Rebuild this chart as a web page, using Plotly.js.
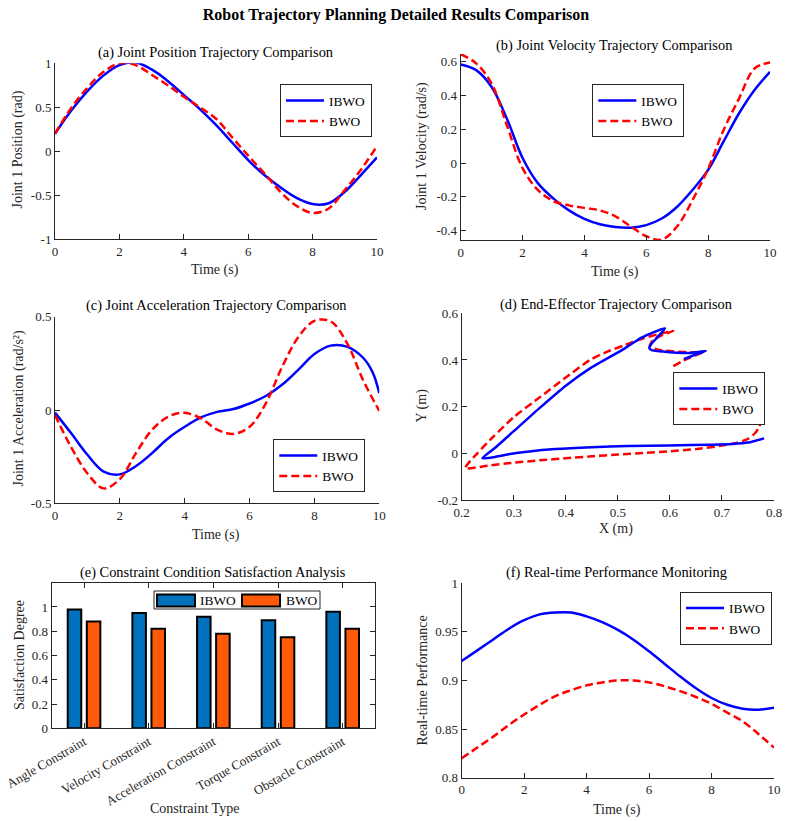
<!DOCTYPE html>
<html>
<head>
<meta charset="utf-8">
<script src="https://cdn.plot.ly/plotly-3.0.1.min.js"></script>
<style>
  html, body { margin: 0; padding: 0; background: #ffffff; }
  #chart { width: 788px; height: 821px; }
</style>
</head>
<body>
<div id="chart"></div>
<script>
// ---------- data ----------
const seriesNames = ['IBWO', 'BWO'];

// (a) joint 1 position (rad)
const tPos = [0, 0.5, 1, 1.5, 2, 2.5, 3, 3.5, 4, 4.5, 5, 5.5, 6, 6.5, 7, 7.5, 8, 8.5, 9, 9.5, 10];
const posIBWO = [0.20, 0.46, 0.68, 0.86, 0.98, 1.01, 0.93, 0.80, 0.64, 0.48, 0.30, 0.10, -0.10, -0.27, -0.41, -0.53, -0.60, -0.59, -0.46, -0.27, -0.07];
const posBWO  = [0.20, 0.49, 0.72, 0.90, 1.00, 0.98, 0.87, 0.75, 0.62, 0.50, 0.37, 0.16, -0.05, -0.25, -0.46, -0.62, -0.70, -0.65, -0.44, -0.21, 0.06];

// (b) joint 1 velocity (rad/s)
const tVel = [0, 0.5, 1, 1.5, 2, 2.5, 3, 3.5, 4, 4.5, 5, 5.5, 6, 6.5, 7, 7.5, 8, 8.5, 9, 9.5, 10];
const velIBWO = [0.584, 0.55, 0.45, 0.26, 0.03, -0.12, -0.21, -0.28, -0.33, -0.362, -0.378, -0.382, -0.367, -0.328, -0.258, -0.158, -0.04, 0.128, 0.295, 0.433, 0.54];
const velBWO  = [0.645, 0.59, 0.47, 0.22, -0.03, -0.16, -0.225, -0.25, -0.265, -0.28, -0.315, -0.375, -0.433, -0.453, -0.374, -0.217, -0.033, 0.196, 0.383, 0.56, 0.595];

// (c) joint 1 acceleration (rad/s^2)
const tAccIBWO = [0, 0.5, 1, 1.5, 2, 2.5, 3, 3.5, 4, 4.5, 5, 5.5, 6, 6.5, 7, 7.5, 8, 8.5, 9, 9.5, 9.8, 10];
const accIBWO  = [-0.014, -0.125, -0.24, -0.33, -0.345, -0.30, -0.23, -0.15, -0.09, -0.04, -0.01, 0.005, 0.035, 0.075, 0.135, 0.215, 0.30, 0.345, 0.34, 0.28, 0.20, 0.09];
const tAccBWO  = [0, 0.5, 1, 1.5, 2, 2.5, 3, 3.5, 4, 4.5, 5, 5.5, 6, 6.5, 7, 7.5, 8, 8.5, 9, 9.5, 10];
const accBWO   = [-0.027, -0.20, -0.34, -0.42, -0.37, -0.23, -0.105, -0.035, -0.015, -0.045, -0.105, -0.128, -0.09, 0.035, 0.23, 0.39, 0.478, 0.475, 0.36, 0.16, -0.005];

// (d) end-effector path in the X-Y plane (m)
const eeXIBWO = [0.627, 0.648, 0.669, 0.655, 0.639, 0.615, 0.5873, 0.572, 0.5635, 0.5604, 0.5649, 0.577, 0.5905,
                 0.5455, 0.5135, 0.4465, 0.40, 0.35, 0.30, 0.265, 0.2397,
                 0.26, 0.29, 0.33, 0.38, 0.45, 0.52, 0.60, 0.68, 0.72, 0.75, 0.781];
const eeYIBWO = [0.404, 0.422, 0.439, 0.434, 0.430, 0.431, 0.436, 0.439, 0.444, 0.452, 0.471, 0.500, 0.536,
                 0.496, 0.450, 0.364, 0.290, 0.195, 0.095, 0.025, -0.021,
                 -0.017, -0.004, 0.008, 0.018, 0.026, 0.031, 0.034, 0.037, 0.040, 0.046, 0.064];
const eeXBWO = [0.6065, 0.625, 0.645, 0.662, 0.64, 0.61, 0.585, 0.572, 0.5625, 0.5617, 0.568, 0.585, 0.6065,
                0.577, 0.545, 0.5135, 0.48, 0.4465, 0.40, 0.35, 0.30, 0.26, 0.23, 0.2064,
                0.25, 0.30, 0.35, 0.40, 0.45, 0.50, 0.55, 0.60, 0.65, 0.70, 0.73, 0.75, 0.763, 0.771, 0.776];
const eeYBWO = [0.374, 0.396, 0.417, 0.432, 0.433, 0.436, 0.441, 0.447, 0.455, 0.465, 0.486, 0.507, 0.524,
                0.510, 0.490, 0.464, 0.436, 0.400, 0.325, 0.240, 0.155, 0.070, 0.000, -0.064,
                -0.053, -0.040, -0.030, -0.021, -0.013, -0.005, 0.002, 0.009, 0.018, 0.033, 0.046, 0.062, 0.085, 0.110, 0.140];

// (e) constraint satisfaction degree
const constraintTypes = ['Angle Constraint', 'Velocity Constraint', 'Acceleration Constraint', 'Torque Constraint', 'Obstacle Constraint'];
const satIBWO = [0.98, 0.95, 0.92, 0.89, 0.96];
const satBWO  = [0.88, 0.82, 0.78, 0.75, 0.82];

// (f) real-time performance
const tPerf = [0, 0.5, 1, 1.5, 2, 2.5, 3, 3.5, 4, 4.5, 5, 5.5, 6, 6.5, 7, 7.5, 8, 8.5, 9, 9.5, 10];
const perfIBWO = [0.920, 0.931, 0.942, 0.953, 0.962, 0.968, 0.970, 0.970, 0.966, 0.960, 0.952, 0.942, 0.930, 0.917, 0.904, 0.892, 0.882, 0.875, 0.871, 0.870, 0.872];
const perfBWO  = [0.820, 0.831, 0.842, 0.854, 0.865, 0.875, 0.884, 0.890, 0.895, 0.898, 0.900, 0.900, 0.898, 0.894, 0.889, 0.883, 0.876, 0.867, 0.858, 0.845, 0.831];

// tick labels (plain hyphen minus signs)
const ticksPosVals = [-1, -0.5, 0, 0.5, 1];
const ticksPosText = ['-1', '-0.5', '0', '0.5', '1'];
const ticksVelVals = [-0.4, -0.2, 0, 0.2, 0.4, 0.6];
const ticksVelText = ['-0.4', '-0.2', '0', '0.2', '0.4', '0.6'];
const ticksAccVals = [-0.5, 0, 0.5];
const ticksAccText = ['-0.5', '0', '0.5'];
const ticksEEYVals = [-0.2, 0, 0.2, 0.4, 0.6];
const ticksEEYText = ['-0.2', '0', '0.2', '0.4', '0.6'];
const ticksSatVals = [0, 0.2, 0.4, 0.6, 0.8, 1];
const ticksSatText = ['0', '0.2', '0.4', '0.6', '0.8', '1'];

// ---------- layout helpers ----------
const W = 788, H = 821;
const FONT = '"Liberation Serif", "Times New Roman", Times, serif';
const INK = '#262626';
const BLUE = '#0000FF', RED = '#FF0000';
const BAR_BLUE = '#0072BD', BAR_ORANGE = '#FF5A0A';

const px = v => v / W;           // horizontal pixel -> paper
const py = v => 1 - v / H;       // vertical pixel -> paper

function axis(x0, x1, extra) {
  return Object.assign({
    domain: [x0, x1],
    showline: true, linecolor: INK, linewidth: 1,
    ticks: 'inside', ticklen: 5, tickwidth: 1, tickcolor: INK,
    showgrid: false, zeroline: false, mirror: false,
    tickfont: { family: FONT, size: 13, color: INK },
    fixedrange: true
  }, extra);
}
function xax(l, r, extra) { return axis(px(l), px(r), extra); }
function yax(t, b, extra) { return axis(py(b), py(t), extra); }

function legendAt(left, top, extra) {
  return Object.assign({
    x: px(left), y: py(top), xanchor: 'left', yanchor: 'top',
    bgcolor: '#ffffff', bordercolor: INK, borderwidth: 1,
    font: { family: FONT, size: 13.4, color: '#000000' },
    itemwidth: 38, tracegroupgap: 0
  }, extra);
}

const solid = { color: BLUE, width: 2.5, shape: 'spline' };
const dashed = { color: RED, width: 2.5, shape: 'spline', dash: '8px,4px' };

// ---------- traces ----------
const traces = [
  // (a)
  { x: tPos, y: posIBWO, name: seriesNames[0], mode: 'lines', line: solid, xaxis: 'x', yaxis: 'y', legend: 'legend' },
  { x: tPos, y: posBWO, name: seriesNames[1], mode: 'lines', line: dashed, xaxis: 'x', yaxis: 'y', legend: 'legend' },
  // (b)
  { x: tVel, y: velIBWO, name: seriesNames[0], mode: 'lines', line: solid, xaxis: 'x2', yaxis: 'y2', legend: 'legend2' },
  { x: tVel, y: velBWO, name: seriesNames[1], mode: 'lines', line: dashed, xaxis: 'x2', yaxis: 'y2', legend: 'legend2' },
  // (c)
  { x: tAccIBWO, y: accIBWO, name: seriesNames[0], mode: 'lines', line: solid, xaxis: 'x3', yaxis: 'y3', legend: 'legend3' },
  { x: tAccBWO, y: accBWO, name: seriesNames[1], mode: 'lines', line: dashed, xaxis: 'x3', yaxis: 'y3', legend: 'legend3' },
  // (d) dashed path drawn first so the solid one sits on top
  { x: eeXBWO, y: eeYBWO, name: seriesNames[1], mode: 'lines', line: Object.assign({}, dashed, { smoothing: 0.6 }), xaxis: 'x4', yaxis: 'y4', legend: 'legend4', legendrank: 2 },
  { x: eeXIBWO, y: eeYIBWO, name: seriesNames[0], mode: 'lines', line: Object.assign({}, solid, { smoothing: 0.6 }), xaxis: 'x4', yaxis: 'y4', legend: 'legend4', legendrank: 1 },
  // (e) bars; their key is drawn below as a compact boxed key
  { type: 'bar', x: constraintTypes, y: satIBWO, name: seriesNames[0], marker: { color: BAR_BLUE, line: { color: '#000000', width: 2 } }, xaxis: 'x5', yaxis: 'y5', showlegend: false },
  { type: 'bar', x: constraintTypes, y: satBWO, name: seriesNames[1], marker: { color: BAR_ORANGE, line: { color: '#000000', width: 2 } }, xaxis: 'x5', yaxis: 'y5', showlegend: false },
  // (f)
  { x: tPerf, y: perfIBWO, name: seriesNames[0], mode: 'lines', line: solid, xaxis: 'x6', yaxis: 'y6', legend: 'legend6' },
  { x: tPerf, y: perfBWO, name: seriesNames[1], mode: 'lines', line: dashed, xaxis: 'x6', yaxis: 'y6', legend: 'legend6' }
];

// ---------- text ----------
function label(text, x, y, size, color, angle, xanchor) {
  return {
    text: text, x: px(x), y: py(y), xref: 'paper', yref: 'paper',
    xanchor: xanchor || 'center', yanchor: 'middle', showarrow: false,
    textangle: angle || 0,
    font: { family: FONT, size: size, color: color }
  };
}
const annotations = [
  label('(a) Joint Position Trajectory Comparison', 215, 52.5, 14.4, '#000000'),
  label('(b) Joint Velocity Trajectory Comparison', 614, 45, 14.4, '#000000'),
  label('(c) Joint Acceleration Trajectory Comparison', 216.5, 306, 14.4, '#000000'),
  label('(d) End-Effector Trajectory Comparison', 616, 304, 14.4, '#000000'),
  label('(e) Constraint Condition Satisfaction Analysis', 212.5, 572.3, 14.4, '#000000'),
  label('(f) Real-time Performance Monitoring', 616.5, 572.3, 14.4, '#000000'),

  label('Time (s)', 215, 270, 14, INK),
  label('Joint 1 Position (rad)', 17.5, 150, 14, INK, -90),
  label('Time (s)', 615, 271.5, 14, INK),
  label('Joint 1 Velocity (rad/s)', 422, 146, 14, INK, -90),
  label('Time (s)', 216, 535, 14, INK),
  label('Joint 1 Acceleration (rad/s²)', 18.5, 408, 14, INK, -90),
  label('X (m)', 616, 529, 14, INK),
  label('Y (m)', 421.5, 406, 14, INK, -90),
  label('Constraint Type', 194, 808, 14, INK),
  label('Satisfaction Degree', 19, 655, 14, INK, -90),
  label('Time (s)', 617, 810, 14, INK),
  label('Real-time Performance', 421.5, 681, 14, INK, -90),

  // key for the bar panel
  label(seriesNames[0], 198, 600.5, 13.4, '#000000', 0, 'left'),
  label(seriesNames[1], 283.5, 600.5, 13.4, '#000000', 0, 'left')
];

// boxed key for the bar panel: frame plus two swatches
function rectPx(x0, y0, x1, y1, fill, lineColor, lineWidth) {
  return {
    type: 'rect', xref: 'paper', yref: 'paper',
    x0: px(x0), x1: px(x1), y0: py(y1), y1: py(y0),
    fillcolor: fill, line: { color: lineColor, width: lineWidth }, layer: 'above'
  };
}
const shapes = [
  rectPx(154, 591, 320, 609, '#ffffff', INK, 1),
  rectPx(157, 594.5, 195, 606.5, BAR_BLUE, '#000000', 2),
  rectPx(242, 594.5, 280, 606.5, BAR_ORANGE, '#000000', 2)
];

const layout = {
  width: W, height: H,
  margin: { l: 0, r: 0, t: 0, b: 0 },
  paper_bgcolor: '#ffffff', plot_bgcolor: '#ffffff',
  font: { family: FONT, color: INK },
  title: {
    text: '<b>Robot Trajectory Planning Detailed Results Comparison</b>',
    x: px(396), xanchor: 'center', xref: 'paper',
    y: py(14), yanchor: 'middle', yref: 'container',
    font: { family: FONT, size: 16, color: '#000000' }
  },
  showlegend: true,
  barmode: 'group', bargap: 0.41, bargroupgap: 0.29,

  xaxis:  xax(55, 377,    { anchor: 'y',  range: [0, 10], dtick: 2 }),
  yaxis:  yax(63.3, 239.3, { anchor: 'x',  range: [-1, 1], tickvals: ticksPosVals, ticktext: ticksPosText }),
  xaxis2: xax(460.7, 770, { anchor: 'y2', range: [0, 10], dtick: 2 }),
  yaxis2: yax(54.1, 240,  { anchor: 'x2', range: [-0.455, 0.645], tickvals: ticksVelVals, ticktext: ticksVelText }),
  xaxis3: xax(55, 379.3,  { anchor: 'y3', range: [0, 10], dtick: 2 }),
  yaxis3: yax(316.7, 503.3, { anchor: 'x3', range: [-0.5, 0.5], tickvals: ticksAccVals, ticktext: ticksAccText }),
  xaxis4: xax(461.7, 774, { anchor: 'y4', range: [0.2, 0.8], dtick: 0.1 }),
  yaxis4: yax(313.3, 500, { anchor: 'x4', range: [-0.2, 0.6], tickvals: ticksEEYVals, ticktext: ticksEEYText }),
  xaxis5: xax(51.7, 375,  { anchor: 'y5', type: 'category', range: [-0.5, 4.5], tickangle: -30, mirror: 'ticks' }),
  yaxis5: yax(582.7, 728.3, { anchor: 'x5', range: [0, 1.2], tickvals: ticksSatVals, ticktext: ticksSatText, mirror: 'ticks' }),
  xaxis6: xax(461.7, 774, { anchor: 'y6', range: [0, 10], dtick: 2 }),
  yaxis6: yax(583.3, 777.7, { anchor: 'x6', range: [0.8, 1], dtick: 0.05 }),

  legend:  legendAt(280, 84.3),
  legend2: legendAt(592.3, 84.3),
  legend3: legendAt(273.3, 439.3),
  legend4: legendAt(673.3, 372.3),
  legend6: legendAt(680, 591.7),

  shapes: shapes,
  annotations: annotations
};

Plotly.newPlot('chart', traces, layout, { displayModeBar: false, staticPlot: true });
</script>
</body>
</html>
